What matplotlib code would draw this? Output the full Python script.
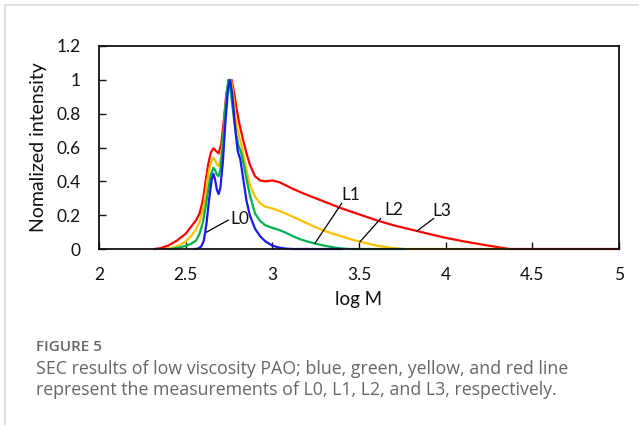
import matplotlib
matplotlib.use("Agg")
import matplotlib.pyplot as plt
from matplotlib.lines import Line2D

# ---- data ----
logM_L0 = [2.55, 2.57, 2.59, 2.605, 2.62, 2.635, 2.65, 2.66, 2.67, 2.68, 2.69, 2.70, 2.715,
           2.73, 2.745, 2.757, 2.77, 2.785, 2.80, 2.815, 2.83, 2.85, 2.87, 2.90, 2.93, 2.96,
           3.00, 3.04, 3.08, 3.12, 3.40]
int_L0 = [0, 0.002, 0.015, 0.05, 0.15, 0.29, 0.41, 0.445, 0.41, 0.35, 0.325, 0.36, 0.52,
          0.76, 0.95, 1.0, 0.90, 0.72, 0.58, 0.53, 0.43, 0.29, 0.20, 0.12, 0.075, 0.045,
          0.02, 0.008, 0.002, 0, 0]

logM_L1 = [2.41, 2.45, 2.50, 2.53, 2.56, 2.58, 2.60, 2.615, 2.63, 2.645, 2.66, 2.67, 2.68,
           2.69, 2.70, 2.715, 2.73, 2.746, 2.76, 2.775, 2.79, 2.805, 2.82, 2.835, 2.85, 2.87,
           2.90, 2.93, 2.96, 3.00, 3.04, 3.08, 3.12, 3.16, 3.20, 3.25, 3.30, 3.35, 3.40,
           3.45, 3.75]
int_L1 = [0, 0.006, 0.018, 0.03, 0.05, 0.09, 0.16, 0.25, 0.35, 0.44, 0.48, 0.465, 0.44,
          0.43, 0.47, 0.62, 0.85, 1.0, 0.93, 0.80, 0.68, 0.61, 0.57, 0.50, 0.42, 0.32,
          0.21, 0.165, 0.14, 0.125, 0.112, 0.095, 0.075, 0.058, 0.045, 0.031, 0.02, 0.01,
          0.003, 0, 0]

logM_L2 = [2.38, 2.42, 2.46, 2.50, 2.53, 2.56, 2.58, 2.60, 2.615, 2.63, 2.645, 2.66, 2.67,
           2.68, 2.69, 2.70, 2.715, 2.73, 2.745, 2.762, 2.775, 2.79, 2.805, 2.82, 2.835,
           2.85, 2.87, 2.90, 2.93, 2.96, 3.00, 3.04, 3.08, 3.12, 3.16, 3.20, 3.25, 3.30,
           3.35, 3.40, 3.45, 3.50, 3.60, 3.70, 3.76, 4.37]
int_L2 = [0, 0.006, 0.02, 0.045, 0.075, 0.115, 0.16, 0.23, 0.33, 0.44, 0.51, 0.54, 0.525,
          0.50, 0.49, 0.52, 0.64, 0.84, 0.97, 1.0, 0.90, 0.76, 0.68, 0.62, 0.55,
          0.47, 0.38, 0.31, 0.27, 0.25, 0.24, 0.225, 0.208, 0.19, 0.172, 0.152, 0.128, 0.108,
          0.09, 0.075, 0.058, 0.045, 0.02, 0.005, 0, 0]

logM_L3 = [2.32, 2.35, 2.40, 2.45, 2.50, 2.53, 2.56, 2.58, 2.60, 2.615, 2.63, 2.645, 2.66,
           2.675, 2.69, 2.705, 2.72, 2.735, 2.75, 2.765, 2.78, 2.795, 2.81, 2.83, 2.85, 2.87,
           2.90, 2.93, 2.96, 3.00, 3.04, 3.08, 3.12, 3.16, 3.20, 3.25, 3.30, 3.35, 3.40,
           3.50, 3.60, 3.70, 3.80, 3.90, 4.00, 4.10, 4.20, 4.30, 4.37, 5.00]
int_L3 = [0, 0.004, 0.02, 0.05, 0.09, 0.13, 0.17, 0.21, 0.29, 0.40, 0.50, 0.57, 0.595,
          0.58, 0.565, 0.62, 0.76, 0.92, 0.99, 1.0, 0.92, 0.82, 0.74, 0.65, 0.57, 0.50,
          0.43, 0.405, 0.40, 0.405, 0.395, 0.375, 0.355, 0.337, 0.32, 0.30, 0.28, 0.26, 0.24,
          0.205, 0.17, 0.14, 0.115, 0.09, 0.066, 0.046, 0.028, 0.011, 0, 0]

x_ticks = [2, 2.5, 3, 3.5, 4, 4.5, 5]
x_tick_labels = ["2", "2.5", "3", "3.5", "4", "4.5", "5"]
y_ticks = [0, 0.2, 0.4, 0.6, 0.8, 1.0, 1.2]
y_tick_labels = ["0", "0.2", "0.4", "0.6", "0.8", "1", "1.2"]

series_names = ["L3", "L2", "L1", "L0"]
colors = {"L0": "#1a1aee", "L1": "#00b050", "L2": "#ffc000", "L3": "#ff0000"}

# label positions (text xy, leader start on curve, leader end near text)
labels = {
    "L0": ((2.81, 0.18), (2.621, 0.10), (2.746, 0.171)),
    "L1": ((3.45, 0.32), (3.246, 0.034), (3.40, 0.27)),
    "L2": ((3.70, 0.23), (3.506, 0.043), (3.625, 0.18)),
    "L3": ((3.98, 0.225), (3.833, 0.105), (3.93, 0.18)),
}

plt.rcParams['font.family'] = ['Lato', 'DejaVu Sans']

fig = plt.figure(figsize=(6.39, 4.25), dpi=100)
ax = fig.add_axes([99/639, 1 - 249/425, 520/639, 203/425])

data = {"L0": (logM_L0, int_L0), "L1": (logM_L1, int_L1),
        "L2": (logM_L2, int_L2), "L3": (logM_L3, int_L3)}
for name in series_names:
    xs, ys = data[name]
    ax.plot(xs, ys, color=colors[name], lw=1.6, solid_joinstyle='round', clip_on=False)

for name, (txy, p0, p1) in labels.items():
    ax.plot([p0[0], p1[0]], [p0[1], p1[1]], color='black', lw=0.9)
    ax.text(txy[0], txy[1], name, fontsize=12.5, ha='center', va='center', color='#111111')

ax.set_xlim(2, 5)
ax.set_ylim(0, 1.2)
ax.set_xticks(x_ticks)
ax.set_xticklabels(x_tick_labels)
ax.set_yticks(y_ticks)
ax.set_yticklabels(y_tick_labels)
ax.tick_params(direction='in', length=5, width=1, labelsize=12.5, pad=13, colors='#111111')
for s in ax.spines.values():
    s.set_linewidth(1.3)
    s.set_color('#111111')
ax.set_xlabel("log M", fontsize=13.5, labelpad=6, color='#111111')
ax.set_ylabel("Nomalized intensity", fontsize=14, labelpad=7, color='#111111')

# card frame
fig.add_artist(Line2D([5/639, 1], [1 - 5/425, 1 - 5/425], color='#dddddd', lw=1.2))
fig.add_artist(Line2D([5/639, 5/639], [0, 1 - 5/425], color='#dddddd', lw=1.2))

cap_font = ['Open Sans', 'DejaVu Sans']
fig.text(36/639, 1 - 347/425, "FIGURE 5", fontsize=11, color='#666666', va='center',
         family=cap_font, fontweight='semibold')
fig.text(36/639, 1 - 369/425, "SEC results of low viscosity PAO; blue, green, yellow, and red line",
         fontsize=12.8, color='#666666', va='center', family=cap_font)
fig.text(36/639, 1 - 390/425, "represent the measurements of L0, L1, L2, and L3, respectively.",
         fontsize=12.8, color='#666666', va='center', family=cap_font)

fig.savefig("out.png", dpi=100)
